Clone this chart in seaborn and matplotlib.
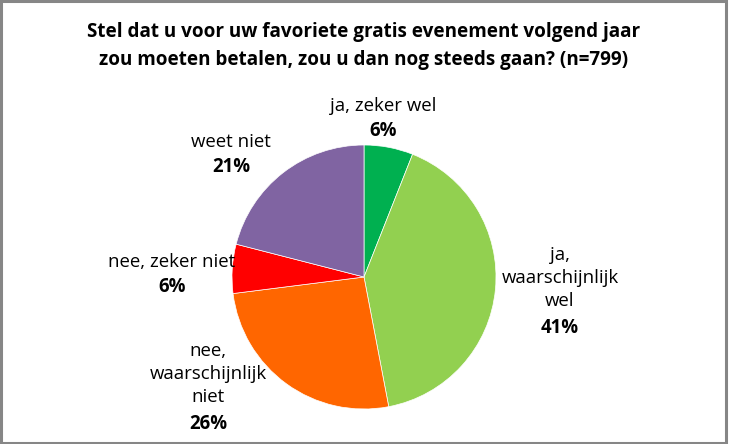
import matplotlib
matplotlib.use("Agg")
import matplotlib.pyplot as plt
import seaborn as sns
from matplotlib.patches import Rectangle

categories = ["ja, zeker wel", "ja,\nwaarschijnlijk\nwel", "nee,\nwaarschijnlijk\nniet", "nee, zeker niet", "weet niet"]
values = [6, 41, 26, 6, 21]
colors = ["#00B050", "#92D050", "#FF6600", "#FF0000", "#8064A2"]
title = "Stel dat u voor uw favoriete gratis evenement volgend jaar\nzou moeten betalen, zou u dan nog steeds gaan? (n=799)"

# label anchor positions (pixel x, pixel y of percentage line)
label_pos = [(383, 131), (560, 328), (208, 424), (172, 287), (231, 167)]

sns.set_theme(style="white")
plt.rcParams['font.family'] = ['Open Sans', 'DejaVu Sans']

W, H = 729, 444
fig = plt.figure(figsize=(W / 100, H / 100), dpi=100)
cx, cy, r = 364, 277, 132
ax = fig.add_axes([(cx - r) / W, (H - cy - r) / H, 2 * r / W, 2 * r / H])
ax.pie(values, colors=colors, startangle=90, counterclock=False,
       wedgeprops=dict(edgecolor="white", linewidth=0.5))
ax.set_xlim(-1, 1)
ax.set_ylim(-1, 1)
ax.axis("off")

fs = 13.4
ls = 25 / (fs * 100 / 72)
for name, v, (px, py) in zip(categories, values, label_pos):
    n = name.count("\n") + 1
    fig.text(px / W, (H - py) / H, f"{v}%", ha="center", va="center",
             fontsize=fs, fontweight="bold", color="black")
    block_c = py - 25 - (n - 1) * 12.5
    fig.text(px / W, (H - block_c) / H, name, ha="center", va="center",
             fontsize=fs, color="black", linespacing=ls, multialignment="center")

tfs = 13.6
fig.text(364 / W, (H - 46) / H, title, ha="center", va="center", fontsize=tfs,
         fontweight="bold", color="black", linespacing=28 / (tfs * 100 / 72))

fig.patches.append(Rectangle((0.0015, 0.003), 0.995, 0.994, transform=fig.transFigure,
                             fill=False, edgecolor="#868686", linewidth=2.2))
fig.savefig("out.png", dpi=100)
